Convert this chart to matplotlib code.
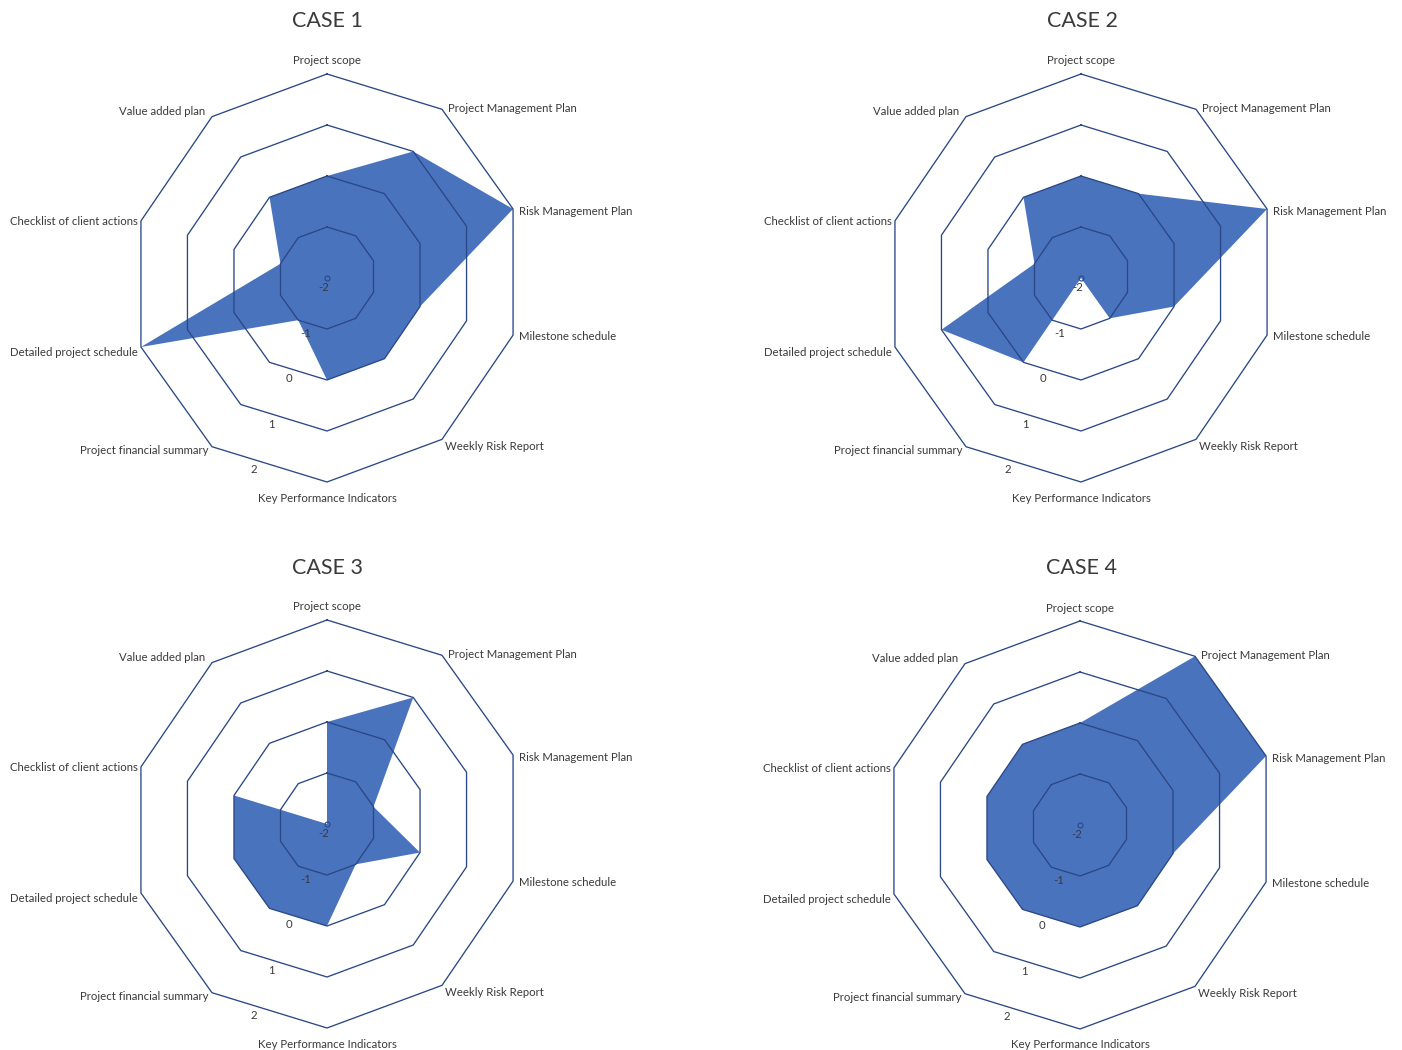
import numpy as np
import matplotlib
matplotlib.use('Agg')
import matplotlib.pyplot as plt

# ---------------- data ----------------
categories = ["Project scope", "Project Management Plan", "Risk Management Plan",
              "Milestone schedule", "Weekly Risk Report", "Key Performance Indicators",
              "Project financial summary", "Detailed project schedule",
              "Checklist of client actions", "Value added plan"]
case_titles = ["CASE 1", "CASE 2", "CASE 3", "CASE 4"]
case1 = [0, 1, 2, 0, 0, 0, -1, 2, -1, 0]
case2 = [0, 0, 2, 0, -1, -2, 0, 1, -1, 0]
case3 = [0, 1, -1, 0, -1, 0, 0, 0, 0, -2]
case4 = [0, 2, 2, 0, 0, 0, 0, 0, 0, 0]
ticks = [-2, -1, 0, 1, 2]
r_min, r_max = -2, 2

# ---------------- style / layout ----------------
W, H = 1402, 1050
PPU = 51.0          # pixels per radial unit
SX = 0.959          # horizontal squeeze of the original
SHEAR = 0.032       # slight vertical shear of the original
FILL = '#4A73BE'
GRID = '#2A4786'
TXT = '#3A3A3A'
plt.rcParams['font.family'] = ['Lato', 'DejaVu Sans']

centers = [(327, 278), (1081, 278), (327, 824), (1080, 825)]
title_pos = [(327, 21), (1082, 21), (327, 568), (1082, 568)]
series = [case1, case2, case3, case4]

n = len(categories)
angles = np.arange(n) * 2 * np.pi / n


def to_xy(values, ang):
    R = np.asarray(values, float) - r_min
    x = R * np.sin(ang) * SX
    y = R * np.cos(ang) + SHEAR * x
    return x, y


# label offsets in pixels (dx, dy downwards), alignment
label_offs = [(0, -13, 'center'), (6, -1, 'left'), (6, 2, 'left'), (6, 1, 'left'),
              (3, 7, 'left'), (0, 16, 'center'), (-4, 4, 'right'), (-3, 6, 'right'),
              (-3, 1, 'right'), (-7, -5, 'right')]

fig = plt.figure(figsize=(W / 100, H / 100), dpi=100)
BW, BH = 600, 500
for (cx, cy), vals, title, (tx0, ty0) in zip(centers, series, case_titles, title_pos):
    ax = fig.add_axes([(cx - BW / 2) / W, (H - cy - BH / 2) / H, BW / W, BH / H])
    ax.set_xlim(-BW / 2 / PPU, BW / 2 / PPU)
    ax.set_ylim(-BH / 2 / PPU, BH / 2 / PPU)
    ax.axis('off')

    # filled data polygon
    x, y = to_xy(vals, angles)
    ax.fill(x, y, color=FILL, lw=0, zorder=1)

    # polygon grid
    closed = np.append(angles, angles[0])
    for t in ticks[1:]:
        gx, gy = to_xy([t] * (n + 1), closed)
        ax.plot(gx, gy, color=GRID, lw=0.95, zorder=2)
    cx0, cy0 = to_xy([r_min], np.array([0.0]))
    ax.plot(cx0, cy0, 'o', ms=3.6, mfc='none', mec=GRID, mew=0.8, zorder=3)

    # tick labels along the axis
    lab_ang = np.deg2rad(202)
    for t in ticks:
        rr = 0.95 * (t - r_min) + 0.2 + r_min
        tx, ty = to_xy([rr], np.array([lab_ang]))
        ax.text(tx[0], ty[0], str(t), ha='center', va='center', fontsize=8.2,
                color=TXT, zorder=4)

    # category labels
    ox, oy = to_xy([r_max] * n, angles)
    for i, cat in enumerate(categories):
        dx, dy, ha = label_offs[i]
        ax.annotate(cat, xy=(ox[i], oy[i]), xytext=(dx, -dy),
                    textcoords='offset pixels', ha=ha, va='center',
                    fontsize=8.2, color=TXT, zorder=4)

    # title
    fig.text(tx0 / W, 1 - ty0 / H, title, ha='center', va='center',
             fontsize=15.5, color=TXT)

fig.savefig('out.png', dpi=100)
